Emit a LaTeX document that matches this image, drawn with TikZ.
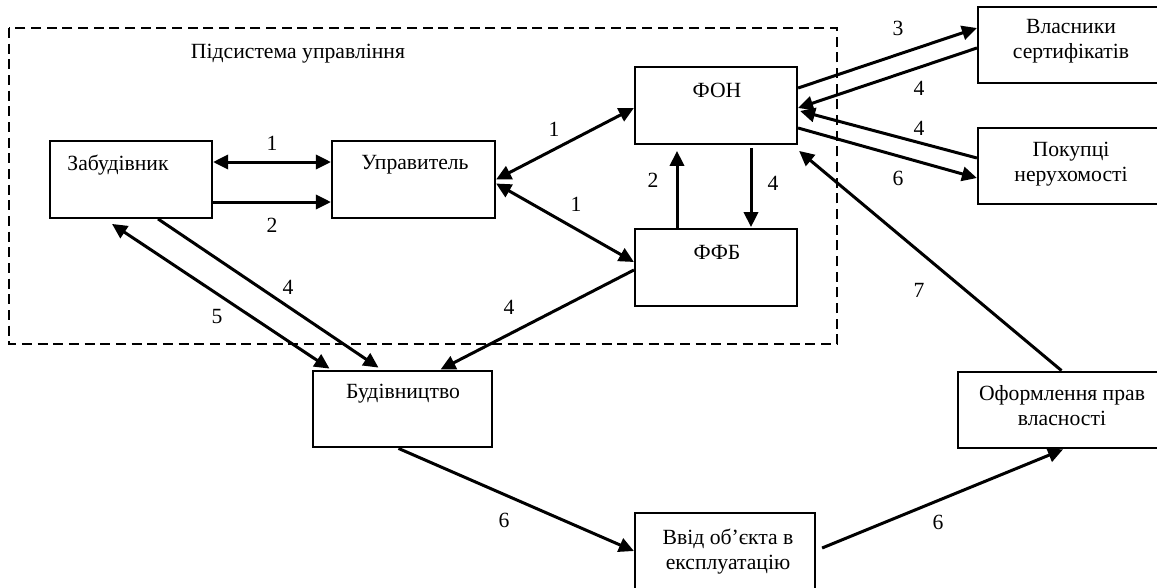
\documentclass[tikz,border=0pt]{standalone}
\usepackage{fontspec}
\setmainfont{Liberation Serif}
\usepackage{tikz}
\usetikzlibrary{arrows.meta,calc}

\begin{document}
\begin{tikzpicture}[
  x=0.6pt,
  y=-0.6pt,
  >={Triangle[length=9pt,width=8.5pt]},
  box/.style={draw, line width=1.3pt, inner sep=0pt, minimum height=46pt},
  txt/.style={inner sep=0pt, align=center, font=\fontsize{13}{15}\selectfont},
  num/.style={inner sep=0pt, font=\fontsize{13}{15}\selectfont},
  arr/.style={->, line width=1.8pt},
  arrs/.style={<->, line width=1.8pt},
  frame/.style={dashed, dash pattern=on 6pt off 3.4pt, line width=1.1pt},
]
\useasboundingbox (0,0) rectangle (1157,587);

% Subsystem frame
\draw[frame] (9,28) rectangle (837,344);
\node[txt] (title) at (298,54) {Підсистема управління};

% Boxes
\node[box, minimum width=97.2pt] (zab) at (131,179.5) {};
\node[box, minimum width=97.8pt] (upr) at (413.5,179.5) {};
\node[box, minimum width=97.2pt] (fon) at (716,105.5) {};
\node[box, minimum width=97.2pt] (ffb) at (716,267.5) {};
\node[box, minimum width=120pt] (vlas) at (1078,45) {};
\node[box, minimum width=120pt] (pok) at (1078,166) {};
\node[box, minimum width=107.4pt] (bud) at (402.5,409) {};
\node[box, minimum width=132pt] (ofor) at (1068,410) {};
\node[box, minimum width=108pt, minimum height=49pt] (vvid) at (725,554) {};

% Box texts
\node[txt] (zabT) at (118,165) {Забудівник};
\node[txt] (uprT) at (415,165) {Управитель};
\node[txt] (fonT) at (717,90) {ФОН};
\node[txt] (ffbT) at (717,252) {ФФБ};
\node[txt] (vlasT) at (1071,41.5) {Власники\\сертифікатів};
\node[txt] (pokT) at (1071,164) {Покупці\\нерухомості};
\node[txt] (budT) at (403,394) {Будівництво};
\node[txt] (oforT) at (1062,405.5) {Оформлення прав\\власності};
\node[txt] (vvidT) at (728,551.5) {Ввід об’єкта в\\експлуатацію};

% Arrows inside the subsystem
\draw[arrs] ($(zab.east)+(0,-17.5)$) -- ($(upr.west)+(0,-17.5)$);
\draw[arr] ($(zab.east)+(0,22.5)$) -- ($(upr.west)+(0,22.5)$);
\draw[arrs] (upr.east) -- ($(fon.west)+(0,2.5)$);
\draw[arrs] ($(upr.east)+(0,4)$) -- ($(ffb.west)+(0,-5.5)$);
\draw[arr] ($(ffb.north)+(-39,0)$) -- ($(fon.south)+(-39,6)$);
\draw[arr] ($(fon.south)+(35,3)$) -- ($(ffb.north)+(35,-1)$);

% Arrows to the outside
\draw[arr] ($(fon.east)+(0,-17.5)$) -- ($(vlas.west)+(0,-17)$);
\draw[arr] ($(vlas.west)+(0,3)$) -- ($(fon.east)+(0,2.5)$);
\draw[arr] ($(pok.west)+(0,-8)$) -- ($(fon.east)+(2,5.5)$);
\draw[arr] ($(fon.east)+(0,22.5)$) -- ($(pok.west)+(0,12)$);
\draw[arr] ($(ofor.north)+(-6.5,0)$) -- ($(fon.south east)+(1,6)$);
\draw[arr] ($(ffb.west)+(0,2.5)$) -- ($(bud.north)+(38,0)$);
\draw[arr] ($(zab.south)+(27,0)$) -- ($(bud.north)+(-24,-2)$);
\draw[arrs] ($(zab.south)+(-19,5)$) -- ($(bud.north)+(-73,-1)$);
\draw[arr] ($(bud.south)+(-4,0)$) -- ($(vvid.west)+(0,-3)$);
\draw[arr] ($(vvid.east)+(6,-6)$) -- ($(ofor.south)+(-5,0)$);

% Arrow numbers
\foreach \i/\t/\x/\y in {a/1/272/143, b/2/272/225, c/1/554/129, d/1/576/204,
                         e/2/653/180, f/4/773/183, g/3/898/28, h/4/919/88,
                         i/4/919/128, j/6/898/178, k/7/919/290, l/5/217/317,
                         m/4/288/287, n/4/509/307, o/6/504/520, p/6/938/522}
  \node[num] (n\i) at (\x,\y) {\t};

\end{tikzpicture}
\end{document}
